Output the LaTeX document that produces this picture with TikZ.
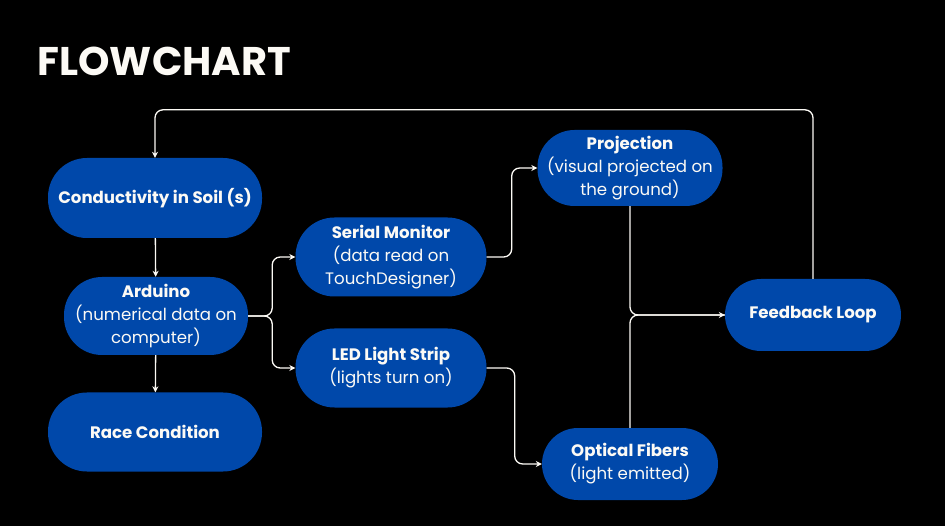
\documentclass[tikz,border=0pt]{standalone}
\usepackage{fontspec}
\setmainfont{Poppins}
\usetikzlibrary{positioning,arrows.meta,calc}
\definecolor{flowblue}{RGB}{0,72,170}
\definecolor{offwhite}{RGB}{252,250,245}

\begin{document}
\begin{tikzpicture}[
  x=1pt, y=-1pt,
  box/.style={rectangle, fill=flowblue, rounded corners=36pt, align=center, text=offwhite,
    font=\fontsize{16.6}{23}\selectfont, inner sep=0pt},
  arrow/.style={-{Stealth[length=6pt, width=6pt]}, line width=1.3pt, draw=offwhite, rounded corners=8pt},
  link/.style={line width=1.3pt, draw=offwhite, rounded corners=8pt},
]
\fill[black] (0,0) rectangle (945,526);
\useasboundingbox (0,0) rectangle (945,526);

\node[anchor=west, text=offwhite, font=\fontsize{40}{48}\selectfont\bfseries] (title) at (34,61) {FLOWCHART};

% === LEFT COLUMN ===
\node[box, rounded corners=39pt, minimum width=214pt, minimum height=80pt] (soil) at (155,198) {\bfseries Conductivity in Soil (s)};
\node[box, rounded corners=38pt, minimum width=184pt, minimum height=78pt] (ard) at (156,316) {{\bfseries Arduino}\\(numerical data on\\computer)};
\node[box, rounded corners=39pt, minimum width=214pt, minimum height=79pt] (race) at (155,432) {\bfseries Race Condition};

% === MIDDLE ===
\node[box, rounded corners=39pt, minimum width=191pt, minimum height=79pt] (serial) at (391,257) {{\bfseries Serial Monitor}\\(data read on\\TouchDesigner)};
\node[box, rounded corners=39pt, minimum width=191pt, minimum height=79pt] (led) at (391,368) {{\bfseries LED Light Strip}\\(lights turn on)};

% === RIGHT ===
\node[box, rounded corners=37pt, minimum width=185pt, minimum height=76pt] (proj) at (630,168) {{\bfseries Projection}\\(visual projected on\\the ground)};
\node[box, minimum width=176pt, minimum height=72pt] (opt) at (630,464) {{\bfseries Optical Fibers}\\(light emitted)};
\node[box, minimum width=176pt, minimum height=72pt] (fb) at (813,315) {\bfseries Feedback Loop};

% connectors
\draw[arrow] (soil) -- (ard);
\draw[arrow] (ard) -- (race);
\draw[arrow] (ard.east) -- ++(24,0) |- (serial.west);
\draw[arrow] (ard.east) -- ++(24,0) |- (led.west);
\draw[arrow] (serial.east) -- ++(25,0) |- (proj.west);
\draw[arrow] (led.east) -- ++(28,0) |- (opt.west);
\draw[arrow] (proj.south) |- (fb.west);
\draw[link] (opt.north) |- (fb.west);
\draw[arrow] (fb.north) -- ($(fb.north)+(0,-169)$) -| (soil.north);
\end{tikzpicture}
\end{document}
